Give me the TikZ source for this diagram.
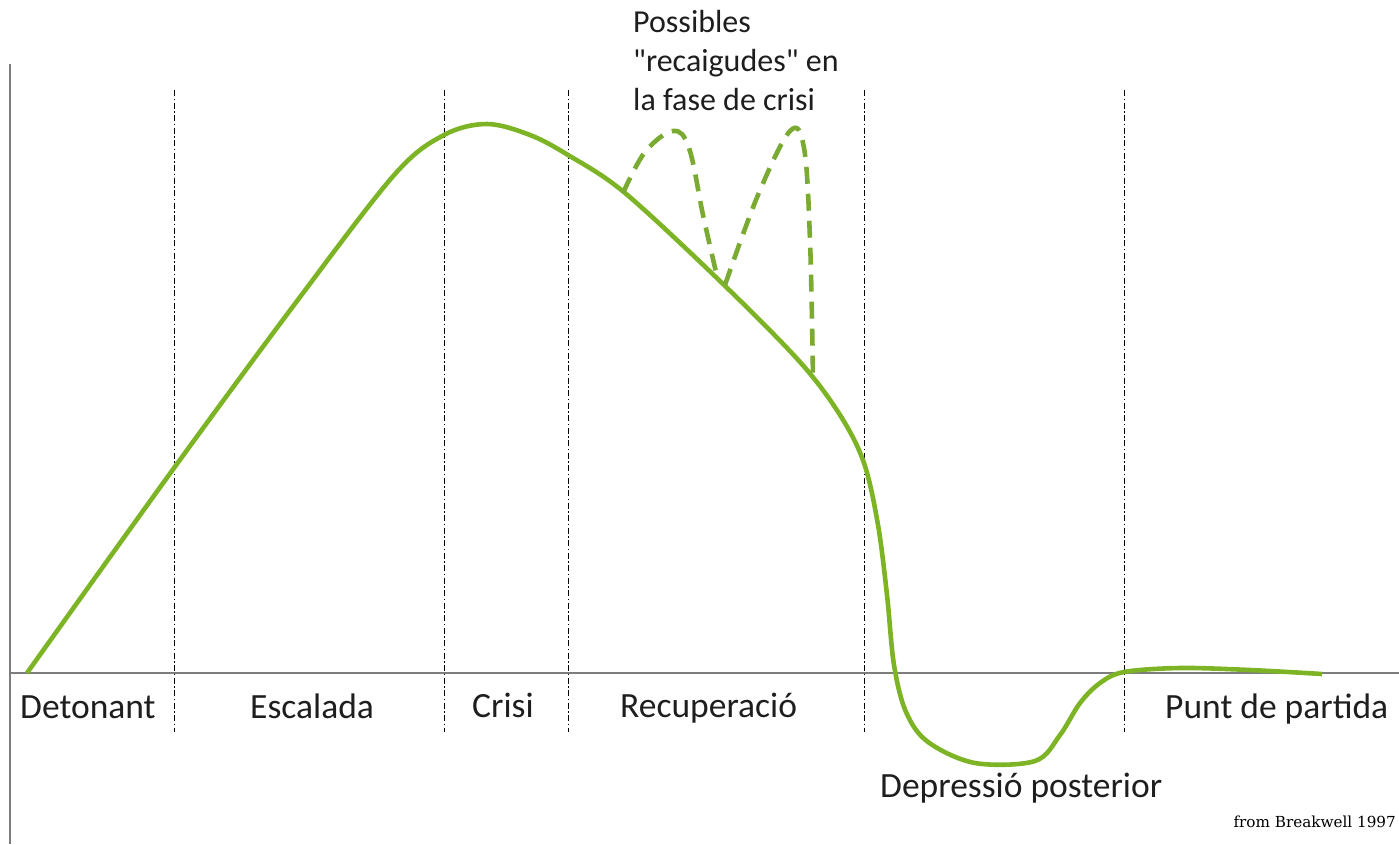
\documentclass[tikz,border=0pt]{standalone}
\usepackage{fontspec}
\setmainfont{Carlito}
\newfontfamily\srcfont{DejaVu Serif}
\definecolor{curvegreen}{RGB}{124,180,38}
\definecolor{dashgreen}{RGB}{122,170,50}
\definecolor{axisgray}{RGB}{125,125,125}
\definecolor{textgray}{RGB}{30,30,30}
\begin{document}
\begin{tikzpicture}[x=1pt,y=-1pt,
  axisline/.style={draw=axisgray,line width=1.8pt},
  phaseline/.style={draw=black,line width=1pt,dash pattern=on 6pt off 2.5pt on 1.5pt off 2.5pt},
  mainline/.style={draw=curvegreen,line width=4.6pt,line join=round},
  relapse/.style={draw=dashgreen,line width=4.6pt,dash pattern=on 17pt off 10pt},
  phaselabel/.style={font=\fontsize{35.5}{40}\selectfont,text=textgray,inner sep=0pt},
  notelabel/.style={font=\fontsize{32}{39}\selectfont,text=textgray,inner sep=0pt,align=left},
  srclabel/.style={font=\srcfont\fontsize{15.2}{18}\selectfont,text=black,inner sep=0pt}]
\useasboundingbox (0,0) rectangle (1399,844);
% axes
\coordinate (ytop) at (10,64);
\coordinate (ybot) at (10,844);
\coordinate (xl) at (10,673);
\coordinate (xr) at (1399,673);
\draw[axisline] (ytop) -- (ybot);
\draw[axisline] (xl) -- (xr);
% phase separators
\foreach \n/\x in {a/174,b/444,c/568,d/864,e/1124}{
  \coordinate (\n top) at (\x,90);
  \coordinate (\n bot) at (\x,732);
  \draw[phaseline] (\n top) -- (\n bot);
}
% main curve
\draw[mainline] plot[smooth,tension=0.55] coordinates {
 (27,673) (174,468) (300,297) (395,174) (444,135) (487,124) (530,135) (568,155)
 (625,193) (722,283) (800,362) (840,415) (864,463) (878,525) (887,595)
 (894,665) (906,712) (928,742) (975,763) (1035,761) (1060,735) (1080,703)
 (1100,683) (1124,672) (1180,668) (1250,670) (1322,674)};
% relapses
\draw[relapse] plot[smooth,tension=0.6] coordinates {
 (623,193) (645,152) (673,131) (689,148) (703,215) (716,272)};
\draw[relapse] plot[smooth,tension=0.6] coordinates {
 (725,285) (758,195) (790,131) (804,148) (810,240) (813,378)};
% labels
\node[phaselabel,anchor=base west] (det) at (20,718) {Detonant};
\node[phaselabel,anchor=base west] (esc) at (250,718) {Escalada};
\node[phaselabel,anchor=base west] (cri) at (472,717) {Crisi};
\node[phaselabel,anchor=base west] (rec) at (620,717) {Recuperació};
\node[phaselabel,anchor=base west] (pun) at (1165,718) {Punt de partida};
\node[phaselabel,anchor=base west] (dep) at (880,797) {Depressió posterior};
\node[notelabel,anchor=north west] (pos) at (633,10) {Possibles\\\textquotedbl recaigudes\textquotedbl{} en\\la fase de crisi};
\node[srclabel,anchor=base east] (src) at (1396,827) {from Breakwell 1997};
\end{tikzpicture}
\end{document}
